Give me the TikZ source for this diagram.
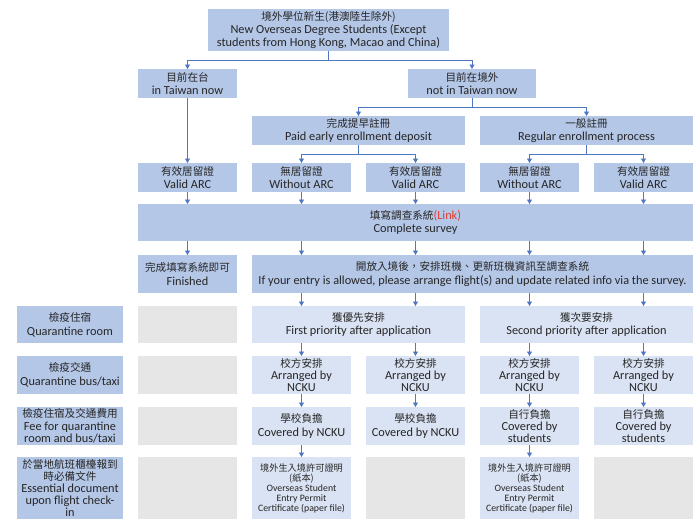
\documentclass[tikz,border=0pt]{standalone}
\usepackage{fontspec}
\setmainfont{Carlito}
\newfontfamily\cjk{Noto Sans CJK TC}
\usetikzlibrary{arrows.meta}
\definecolor{dk}{HTML}{B4C7E7}
\definecolor{lt}{HTML}{DAE3F3}
\definecolor{gy}{HTML}{E7E6E6}
\definecolor{lnc}{HTML}{4F78C2}
\definecolor{tx}{HTML}{262626}
\definecolor{lk}{HTML}{E03C31}
\newcommand\zh[1]{{\cjk\fontsize{10.6}{13}\selectfont #1}}
\newcommand\zhs[1]{{\cjk\fontsize{9.2}{10}\selectfont #1}}
\newcommand\bx[7]{\pgfmathsetmacro\bxw{#5-#3}\pgfmathsetmacro\bxh{#6-#4}%
  \node[#1,anchor=north west,minimum width=\bxw pt,minimum height=\bxh pt] (#2) at (#3,#4) {#7};}
\tikzset{
  boxbase/.style={draw=none, inner sep=0.5pt, outer sep=0pt, align=center, text=tx,
    font=\fontsize{12.3}{13.8}\selectfont},
  dbox/.style={boxbase, fill=dk},
  lbox/.style={boxbase, fill=lt},
  gbox/.style={boxbase, fill=gy},
  three/.style={font=\fontsize{12.3}{12.3}\selectfont},
  conn/.style={draw=lnc, line width=0.8pt},
  arr/.style={conn, -{Triangle[length=4.5pt,width=5pt]}},
}
\begin{document}
\begin{tikzpicture}[x=1pt,y=-1pt]
\useasboundingbox (0,0) rectangle (700,525);
\fill[white] (0,0) rectangle (700,525);
% level 0-2
\bx{dbox,font=\fontsize{12.3}{13}\selectfont}{top}{208}{9}{449}{51}{\zh{境外學位新生(港澳陸生除外)}\\New Overseas Degree Students (Except\\students from Hong Kong, Macao and China)}
\bx{dbox}{tw}{138}{69}{237}{98}{\zh{目前在台}\\in Taiwan now}
\bx{dbox}{ntw}{408}{69}{536}{98}{\zh{目前在境外}\\not in Taiwan now}
\bx{dbox}{early}{252}{116}{465}{145}{\zh{完成提早註冊}\\Paid early enrollment deposit}
\bx{dbox}{reg}{480}{116}{693}{145}{\zh{一般註冊}\\Regular enrollment process}
% ARC row
\bx{dbox}{a0}{138}{163}{237}{192}{\zh{有效居留證}\\Valid ARC}
\bx{dbox}{a1}{252}{163}{351}{192}{\zh{無居留證}\\Without ARC}
\bx{dbox}{a2}{366}{163}{465}{192}{\zh{有效居留證}\\Valid ARC}
\bx{dbox}{a3}{480}{163}{579}{192}{\zh{無居留證}\\Without ARC}
\bx{dbox}{a4}{594}{163}{693}{192}{\zh{有效居留證}\\Valid ARC}
% survey
\bx{dbox}{sv}{138}{204}{693}{241}{\zh{填寫調查系統}\textcolor{lk}{(Link)}\\Complete survey}
\bx{dbox}{fin}{138}{255}{237}{293}{\zh{完成填寫系統即可}\\Finished}
\bx{dbox}{fl}{252}{255}{693}{293}{\zh{開放入境後，安排班機、更新班機資訊至調查系統}\\If your entry is allowed, please arrange flight(s) and update related info via the survey.}
% row labels
\bx{dbox}{L1}{17}{306}{123}{343}{\zh{檢疫住宿}\\Quarantine room}
\bx{dbox}{L2}{17}{356}{123}{394}{\zh{檢疫交通}\\Quarantine bus/taxi}
\bx{dbox,three}{L3}{17}{407}{123}{445}{\zh{檢疫住宿及交通費用}\\Fee for quarantine\\room and bus/taxi}
\bx{dbox,font=\fontsize{12.3}{11.9}\selectfont}{L4}{17}{457}{123}{519}{\zh{於當地航班櫃檯報到}\\\zh{時必備文件}\\Essential document\\upon flight check-\\in}
% gray cells
\bx{gbox}{g1}{138}{306}{237}{343}{}
\bx{gbox}{g2}{138}{356}{237}{394}{}
\bx{gbox}{g3}{138}{407}{237}{445}{}
\bx{gbox}{g4}{138}{457}{237}{519}{}
\bx{gbox}{d2}{366}{457}{465}{519}{}
\bx{gbox}{d4}{594}{457}{693}{519}{}
% priority
\bx{lbox}{p1}{252}{306}{465}{343}{\zh{獲優先安排}\\First priority after application}
\bx{lbox}{p2}{480}{306}{693}{343}{\zh{獲次要安排}\\Second priority after application}
% arranged
\bx{lbox,three}{r1}{252}{356}{351}{394}{\zh{校方安排}\\Arranged by\\NCKU}
\bx{lbox,three}{r2}{366}{356}{465}{394}{\zh{校方安排}\\Arranged by\\NCKU}
\bx{lbox,three}{r3}{480}{356}{579}{394}{\zh{校方安排}\\Arranged by\\NCKU}
\bx{lbox,three}{r4}{594}{356}{693}{394}{\zh{校方安排}\\Arranged by\\NCKU}
% fees
\bx{lbox}{f1}{252}{407}{351}{445}{\zh{學校負擔}\\Covered by NCKU}
\bx{lbox}{f2}{366}{407}{465}{445}{\zh{學校負擔}\\Covered by NCKU}
\bx{lbox,three}{f3}{480}{407}{579}{445}{\zh{自行負擔}\\Covered by\\students}
\bx{lbox,three}{f4}{594}{407}{693}{445}{\zh{自行負擔}\\Covered by\\students}
% documents
\bx{lbox,font=\fontsize{9.8}{10}\selectfont}{d1}{252}{457}{351}{519}{\zhs{境外生入境許可證明}\\\zhs{(紙本)}\\Overseas Student\\Entry Permit\\Certificate (paper file)}
\bx{lbox,font=\fontsize{9.8}{10}\selectfont}{d3}{480}{457}{579}{519}{\zhs{境外生入境許可證明}\\\zhs{(紙本)}\\Overseas Student\\Entry Permit\\Certificate (paper file)}
% connectors
\draw[conn] (top.south) -- ++(0,9) coordinate (j1);
\draw[arr] (j1) -| (tw.north);
\draw[arr] (j1) -| (ntw.north);
\draw[conn] (ntw.south) -- ++(0,9.5) coordinate (j2);
\draw[arr] (j2) -| (early.north);
\draw[arr] (j2) -| (reg.north);
\draw[conn] (early.south) -- ++(0,9) coordinate (j3);
\draw[arr] (j3) -| (a1.north);
\draw[arr] (j3) -| (a2.north);
\draw[conn] (reg.south) -- ++(0,9) coordinate (j4);
\draw[arr] (j4) -| (a3.north);
\draw[arr] (j4) -| (a4.north);
\draw[arr] (tw.south) -- (a0.north);
\foreach \i in {0,...,4} {\draw[arr] (a\i.south) -- (a\i.south |- sv.north);}
\draw[arr] (sv.south -| fin.north) -- (fin.north);
\foreach \i in {1,...,4} {\draw[arr] (sv.south -| r\i.north) -- (fl.north -| r\i.north);}
\draw[arr] (fl.south -| r1.north) -- (p1.north -| r1.north);
\draw[arr] (fl.south -| r2.north) -- (p1.north -| r2.north);
\draw[arr] (fl.south -| r3.north) -- (p2.north -| r3.north);
\draw[arr] (fl.south -| r4.north) -- (p2.north -| r4.north);
\draw[arr] (p1.south -| r1.north) -- (r1.north);
\draw[arr] (p1.south -| r2.north) -- (r2.north);
\draw[arr] (p2.south -| r3.north) -- (r3.north);
\draw[arr] (p2.south -| r4.north) -- (r4.north);
\foreach \i in {1,...,4} {\draw[arr] (r\i.south) -- (f\i.north);}
\draw[arr] (f1.south) -- (d1.north);
\draw[arr] (f3.south) -- (d3.north);
\end{tikzpicture}
\end{document}
